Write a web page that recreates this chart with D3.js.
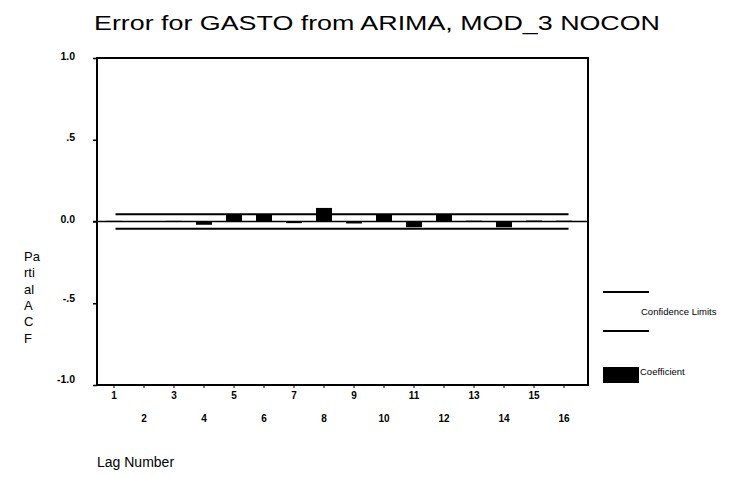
<!DOCTYPE html>
<html>
<head>
<meta charset="utf-8">
<script src="https://cdn.jsdelivr.net/npm/d3@7"></script>
<style>
  html, body { margin: 0; padding: 0; background: #fff; }
  svg { display: block; font-family: "Liberation Sans", Arial, sans-serif; }
</style>
</head>
<body>
<svg id="chart" width="749" height="477"></svg>
<script>
// ---- data ----
const lags = [1, 2, 3, 4, 5, 6, 7, 8, 9, 10, 11, 12, 13, 14, 15, 16];
const coefficients = [0.004, 0.003, 0.004, -0.02, 0.043, 0.04, -0.01, 0.083, -0.012, 0.04, -0.035, 0.04, 0.005, -0.035, 0.006, 0.005];
const upperLimit = [0.045, 0.045, 0.045, 0.045, 0.045, 0.045, 0.045, 0.045, 0.045, 0.045, 0.045, 0.045, 0.045, 0.045, 0.045, 0.045];
const lowerLimit = [-0.045, -0.045, -0.045, -0.045, -0.045, -0.045, -0.045, -0.045, -0.045, -0.045, -0.045, -0.045, -0.045, -0.045, -0.045, -0.045];
const yTicks = [1.0, 0.5, 0.0, -0.5, -1.0];
const yTickLabels = ["1.0", ".5", "0.0", "-.5", "-1.0"];
const titleText = "Error for GASTO from ARIMA, MOD_3 NOCON";
const yLabelLines = ["Pa", "rti", "al", "A", "C", "F"];
const xLabelText = "Lag Number";
const legendItems = ["Confidence Limits", "Coefficient"];

// ---- layout ----
const svg = d3.select("#chart");
const plot = { left: 97, right: 588, top: 58, bottom: 385 };

const x = d3.scaleLinear().domain([1, 16]).range([114, 564]);
const y = d3.scaleLinear().domain([-1, 1]).range([plot.bottom, plot.top]);
const barW = 16;

// title
svg.append("text")
  .attr("x", 94).attr("y", 30)
  .attr("font-size", 20.5)
  .attr("textLength", 566).attr("lengthAdjust", "spacingAndGlyphs")
  .text(titleText);

// plot frame
svg.append("rect")
  .attr("x", plot.left).attr("y", plot.top)
  .attr("width", plot.right - plot.left).attr("height", plot.bottom - plot.top)
  .attr("fill", "none").attr("stroke", "#000").attr("stroke-width", 2);

// y axis ticks + labels
const yAxis = d3.axisLeft(y).tickValues(yTicks).tickSize(4)
  .tickFormat((d, i) => yTickLabels[i]);
const gy = svg.append("g").attr("transform", `translate(${plot.left},0)`).call(yAxis);
gy.select(".domain").remove();
gy.selectAll(".tick line").attr("stroke", "#000").attr("stroke-width", 1.5);
gy.selectAll(".tick text")
  .attr("x", -22)
  .attr("dy", d => d < 0 ? "-0.2em" : "0.1em")
  .attr("font-family", "Liberation Sans, Arial, sans-serif")
  .attr("font-size", 10.5).attr("font-weight", "bold").attr("fill", "#000");

// x axis ticks + labels (staggered)
const gx = svg.append("g");
gx.selectAll("line.xt").data(lags).join("line")
  .attr("class", "xt")
  .attr("x1", d => x(d)).attr("x2", d => x(d))
  .attr("y1", plot.bottom).attr("y2", plot.bottom + 3)
  .attr("stroke", "#000").attr("stroke-width", 1);
gx.selectAll("text.xl").data(lags).join("text")
  .attr("class", "xl")
  .attr("x", d => x(d))
  .attr("y", d => d % 2 === 1 ? 399 : 422)
  .attr("text-anchor", "middle")
  .attr("font-size", 10).attr("font-weight", "bold")
  .text(d => d);

// zero line
svg.append("line")
  .attr("x1", plot.left - 4).attr("x2", plot.right)
  .attr("y1", y(0)).attr("y2", y(0))
  .attr("stroke", "#000").attr("stroke-width", 1.5);

// coefficient bars
svg.selectAll("rect.bar").data(lags).join("rect")
  .attr("class", "bar")
  .attr("x", d => x(d) - barW / 2)
  .attr("width", barW)
  .attr("y", (d, i) => Math.min(y(coefficients[i]), y(0)))
  .attr("height", (d, i) => Math.abs(y(coefficients[i]) - y(0)))
  .attr("fill", "#000");

// confidence limits
[upperLimit, lowerLimit].forEach(arr => {
  const pts = arr.map((v, i) => [x(lags[i]), y(v)]);
  pts[0][0] = x(1.05);
  pts[pts.length - 1][0] = x(16.15);
  svg.append("path")
    .attr("d", d3.line()(pts))
    .attr("fill", "none").attr("stroke", "#000").attr("stroke-width", 2);
});

// y axis label (stacked)
svg.selectAll("text.yl").data(yLabelLines).join("text")
  .attr("class", "yl")
  .attr("x", 24)
  .attr("y", (d, i) => 261 + i * 16.3)
  .attr("font-size", 13)
  .text(d => d);

// x axis label
svg.append("text")
  .attr("x", 97).attr("y", 467)
  .attr("font-size", 14)
  .text(xLabelText);

// legend
const lg = svg.append("g");
lg.append("line").attr("x1", 603).attr("x2", 649).attr("y1", 292).attr("y2", 292)
  .attr("stroke", "#000").attr("stroke-width", 2);
lg.append("line").attr("x1", 603).attr("x2", 649).attr("y1", 331).attr("y2", 331)
  .attr("stroke", "#000").attr("stroke-width", 2);
lg.append("text").attr("x", 641).attr("y", 315).attr("font-size", 9.5)
  .text(legendItems[0]);
lg.append("rect").attr("x", 603).attr("y", 367).attr("width", 36).attr("height", 16)
  .attr("fill", "#000");
lg.append("text").attr("x", 640).attr("y", 375).attr("font-size", 9.5)
  .text(legendItems[1]);
</script>
</body>
</html>
